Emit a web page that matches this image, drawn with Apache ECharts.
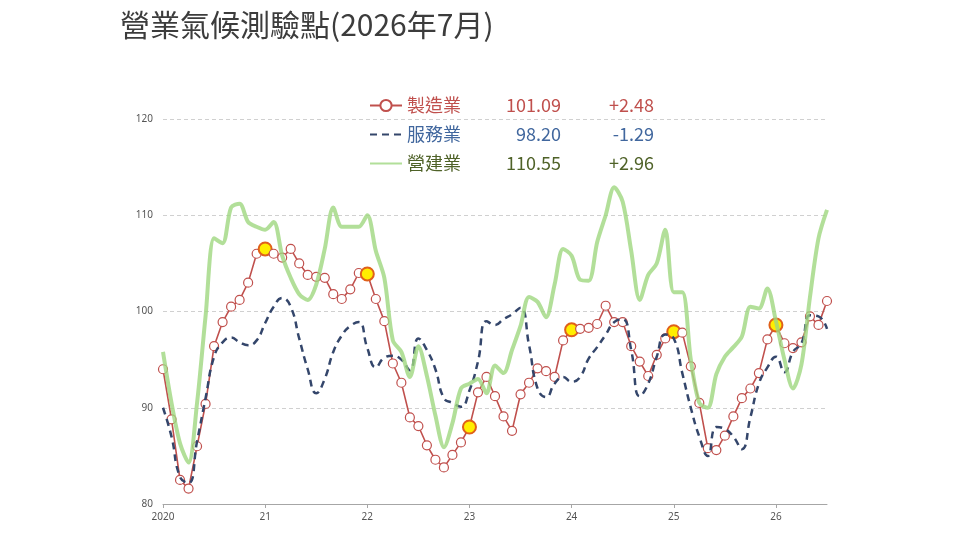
<!DOCTYPE html>
<html>
<head>
<meta charset="utf-8">
<script src="https://cdn.jsdelivr.net/npm/echarts@6/dist/echarts.min.js"></script>
<style>
html, body { margin: 0; padding: 0; background: #fff; }
#chart { width: 960px; height: 540px; }
</style>
</head>
<body>
<div id="chart"></div>
<script>
var yearLabels = ["2020", "21", "22", "23", "24", "25", "26"];
var seriesNames = ["製造業", "服務業", "營建業"];

// 2020/01 ~ 2026/07, monthly
var manufacturing = [
	94.0, 88.8, 82.5, 81.6, 86.0, 90.4, 96.4, 98.9, 100.5, 101.2, 103.0, 106.0,
	106.5, 106.0, 105.6, 106.5, 105.0, 103.8, 103.6, 103.5, 101.8, 101.3, 102.3, 104.0,
	103.9, 101.3, 99.0, 94.6, 92.6, 89.0, 88.1, 86.1, 84.6, 83.8, 85.1, 86.4,
	88.0, 91.6, 93.2, 91.2, 89.1, 87.6, 91.4, 92.6, 94.1, 93.8, 93.2, 97.0,
	98.1, 98.2, 98.3, 98.7, 100.6, 98.9, 98.9, 96.4, 94.8, 93.3, 95.5, 97.2,
	97.9, 97.8, 94.3, 90.5, 85.8, 85.6, 87.1, 89.1, 91.0, 92.0, 93.6, 97.1,
	98.6, 96.7, 96.2, 96.8, 99.5, 98.61, 101.09
];
var services = [
	90.0, 87.0, 82.8, 82.2, 86.5, 91.0, 95.3, 96.8, 97.3, 96.8, 96.5, 97.0,
	98.8, 100.5, 101.4, 100.5, 97.2, 94.0, 91.5, 93.0, 95.8, 97.5, 98.5, 98.9,
	96.2, 94.2, 95.2, 95.4, 95.0, 93.9, 97.2, 96.0, 94.0, 91.0, 90.5, 90.1,
	91.8, 94.8, 99.0, 98.6, 99.2, 99.7, 100.4, 96.5, 92.0, 91.1, 92.5, 93.2,
	92.7, 93.2, 95.1, 96.3, 97.6, 98.9, 99.2, 96.0, 91.2, 92.5, 95.3, 97.6,
	97.2, 93.6, 90.0, 87.0, 85.0, 88.0, 87.8, 87.0, 85.7, 89.0, 92.5, 94.2,
	95.3, 93.7, 95.8, 96.7, 99.6, 99.49, 98.20
];
var construction = [
	95.8, 90.5, 86.3, 84.3, 90.5, 99.5, 107.6, 107.1, 110.8, 111.2, 109.3, 108.8,
	108.5, 109.3, 105.8, 103.5, 101.8, 101.2, 102.8, 106.5, 110.8, 108.8, 108.8, 108.8,
	110.0, 106.3, 103.5, 97.0, 95.8, 93.2, 96.4, 93.3, 89.2, 85.9, 88.4, 92.0,
	92.5, 93.0, 91.5, 94.4, 93.6, 96.0, 98.5, 101.5, 101.0, 99.4, 102.8, 106.5,
	105.8, 103.3, 103.2, 107.2, 110.0, 112.9, 111.4, 106.3, 101.2, 103.8, 105.0, 108.5,
	102.0, 102.0, 95.0, 90.5, 90.0, 93.5, 95.3, 96.3, 97.4, 100.5, 100.3, 102.4,
	99.0, 95.0, 92.0, 94.5, 101.5, 107.59, 110.55
];

var months = [];
for (var i = 0; i < manufacturing.length; i++) {
	months.push((2020 + Math.floor(i / 12)) + "/" + (i % 12 + 1));
}

var fontCJK = "'Noto Sans CJK TC', 'Noto Sans', sans-serif";
var seriesColor = ["#c0504d", "#34466b", "#9fd77f"];
var textColor = ["#c0504d", "#41679e", "#4f6228"];
var allData = [manufacturing, services, construction];

function lastInfo(arr) {
	var last = arr[arr.length - 1];
	var diff = last - arr[arr.length - 2];
	return {
		value: last.toFixed(2),
		diff: (diff >= 0 ? "+" : "") + diff.toFixed(2)
	};
}

// red points: January of each year is highlighted
var redData = manufacturing.map(function (v, i) {
	if (i % 12 === 0 && i > 0) {
		return {
			value: v,
			symbolSize: 13,
			itemStyle: { color: "#ffee00", borderColor: "#e0601a", borderWidth: 2 }
		};
	}
	return v;
});

var richStyles = {};
for (var k = 0; k < 3; k++) {
	richStyles["n" + k] = { width: 56, fontSize: 18, color: textColor[k], fontFamily: fontCJK };
	richStyles["v" + k] = { width: 98, align: "right", fontSize: 18, color: textColor[k], fontFamily: fontCJK };
	richStyles["c" + k] = { width: 93, align: "right", fontSize: 18, color: textColor[k], fontFamily: fontCJK };
}

var chart = echarts.init(document.getElementById("chart"));

var option = {
	animation: false,
	title: {
		text: "營業氣候測驗點(2026年7月)",
		left: 115,
		top: 5,
		textStyle: {
			fontFamily: fontCJK,
			fontSize: 30,
			fontWeight: "normal",
			color: "#3c3c3c"
		}
	},
	legend: {
		orient: "vertical",
		left: 364,
		top: 90,
		itemWidth: 32,
		itemHeight: 14,
		itemGap: 8,
		data: [
			{ name: seriesNames[0] },
			{ name: seriesNames[1], itemStyle: { opacity: 0 } },
			{ name: seriesNames[2], itemStyle: { opacity: 0 } }
		],
		formatter: function (name) {
			var k = seriesNames.indexOf(name);
			var info = lastInfo(allData[k]);
			return "{n" + k + "|" + name + "}{v" + k + "|" + info.value + "}{c" + k + "|" + info.diff + "}";
		},
		textStyle: {
			fontSize: 18,
			lineHeight: 21,
			fontFamily: fontCJK,
			rich: richStyles
		}
	},
	grid: {
		left: 163,
		right: 133,
		top: 119,
		bottom: 36
	},
	xAxis: {
		type: "category",
		data: months,
		boundaryGap: false,
		axisLine: { lineStyle: { color: "#a6a6a6", width: 1 } },
		axisTick: { interval: 11, length: 4, lineStyle: { color: "#a6a6a6" } },
		axisLabel: {
			interval: 11,
			color: "#555",
			fontSize: 10,
			margin: 8,
			fontFamily: "'Noto Sans', sans-serif",
			formatter: function (value, index) {
				return yearLabels[Math.floor(index / 12)];
			}
		}
	},
	yAxis: {
		type: "value",
		min: 80,
		max: 120,
		interval: 10,
		axisLine: { show: false },
		axisTick: { show: false },
		axisLabel: {
			color: "#555",
			fontSize: 10,
			margin: 10,
			fontFamily: "'Noto Sans', sans-serif"
		},
		splitLine: {
			lineStyle: { color: "#d0d0d0", type: [4, 3], width: 1 }
		}
	},
	series: [
		{
			name: seriesNames[0],
			type: "line",
			data: redData,
			z: 2,
			symbol: "circle",
			symbolSize: 9,
			showAllSymbol: true,
			itemStyle: { color: "#ffffff", borderColor: seriesColor[0], borderWidth: 1.2 },
			lineStyle: { color: seriesColor[0], width: 1.6 }
		},
		{
			name: seriesNames[1],
			type: "line",
			data: services,
			z: 3,
			smooth: 0.5,
			symbol: "none",
			itemStyle: { color: seriesColor[1] },
			lineStyle: { color: seriesColor[1], width: 2.5, type: [7, 5] }
		},
		{
			name: seriesNames[2],
			type: "line",
			data: construction,
			z: 4,
			smooth: 0.3,
			symbol: "none",
			itemStyle: { color: seriesColor[2] },
			lineStyle: { color: seriesColor[2], width: 4, opacity: 0.8 }
		}
	]
};

chart.setOption(option);
</script>
</body>
</html>
